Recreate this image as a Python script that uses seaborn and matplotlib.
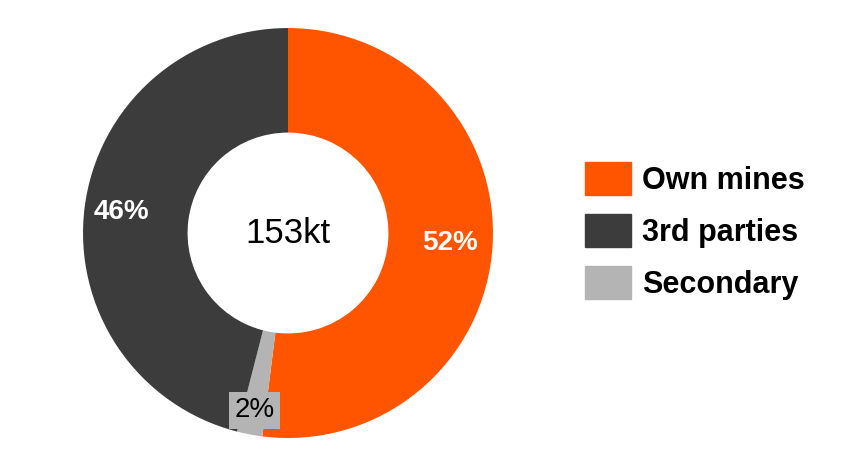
import matplotlib
matplotlib.use("Agg")
import matplotlib.pyplot as plt
import matplotlib.patches as mpatches
import numpy as np
import seaborn as sns

# Data
labels = ["Own mines", "Secondary", "3rd parties"]
shares = [52, 2, 46]
colors = ["#FF5400", "#B4B4B4", "#3C3C3C"]
legend_order = ["Own mines", "3rd parties", "Secondary"]
total_label = "153kt"

sns.set_theme(style="white")
plt.rcParams['font.family'] = ['Liberation Sans', 'DejaVu Sans']
plt.rcParams['text.color'] = 'black'

fig = plt.figure(figsize=(8.42, 4.76), dpi=100)
ax = fig.add_axes([0.0986, 0.0798, 0.4869, 0.8613])

wedges, _ = ax.pie(shares, colors=colors, startangle=90, counterclock=False,
                   radius=1.0, wedgeprops=dict(width=0.51, linewidth=0))
ax.set_xlim(-1, 1)
ax.set_ylim(-1, 1)
ax.set_aspect("equal")
ax.axis("off")

# percentage labels placed at the middle angle of each wedge
label_r = {"Own mines": 0.79, "Secondary": 0.88, "3rd parties": 0.82}
for w, lab, val in zip(wedges, labels, shares):
    ang = np.deg2rad((w.theta1 + w.theta2) / 2)
    r = label_r[lab]
    x, y = r * np.cos(ang), r * np.sin(ang)
    if lab == "Secondary":
        ax.text(x, y, f"{val}%", ha="center", va="center", fontsize=20,
                color="black",
                bbox=dict(boxstyle="square,pad=0.2", fc="#B4B4B4", ec="none"))
    else:
        ax.text(x, y, f"{val}%", ha="center", va="center", fontsize=20,
                fontweight="bold", color="white")

ax.text(0, 0, total_label, ha="center", va="center", fontsize=25, color="black")

color_map = dict(zip(labels, colors))
handles = [mpatches.Patch(color=color_map[l], label=l) for l in legend_order]
fig.legend(handles=handles, loc="upper left", bbox_to_anchor=(585 / 842, 1 - 162 / 476),
           frameon=False, prop=dict(weight="bold", size=22), labelcolor="black",
           handlelength=1.51, handleheight=1.27, handletextpad=0.35,
           labelspacing=0.6, borderaxespad=0, borderpad=0)

fig.savefig("out.png", dpi=100, facecolor="white")
